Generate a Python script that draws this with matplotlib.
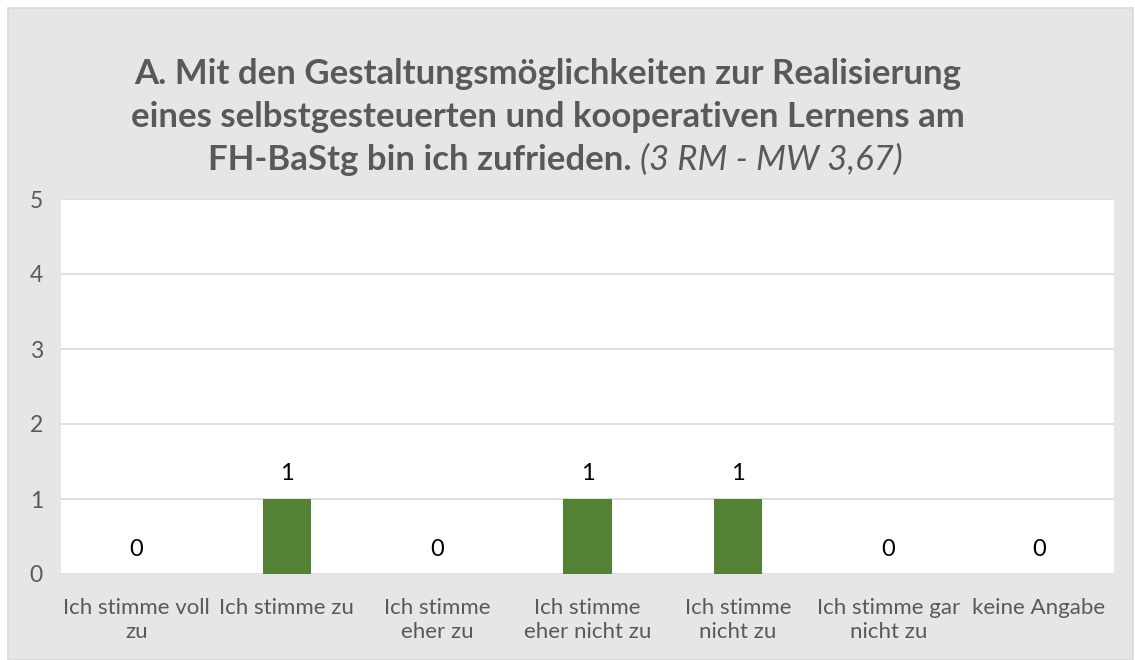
import matplotlib
matplotlib.use("Agg")
import matplotlib.pyplot as plt
from matplotlib.patches import Rectangle

categories = ["Ich stimme voll\nzu", "Ich stimme zu", "Ich stimme\neher zu",
              "Ich stimme\neher nicht zu", "Ich stimme\nnicht zu",
              "Ich stimme gar\nnicht zu", "keine Angabe"]
values = [0, 1, 0, 1, 1, 0, 0]
title_lines = ["A. Mit den Gestaltungsmöglichkeiten zur Realisierung",
               "eines selbstgesteuerten und kooperativen Lernens am"]
title_bold3 = "FH-BaStg bin ich zufrieden."
title_ital3 = "(3 RM - MW 3,67)"

W, H = 1135, 660
fig = plt.figure(figsize=(W/100, H/100), dpi=100)
fig.patch.set_facecolor("white")
bg = "#e7e6e6"
fig.patches.append(Rectangle((8/W, 0), (1133-8)/W, (660-8)/H, transform=fig.transFigure,
                             facecolor=bg, edgecolor="#d9d9d9", lw=1.2, zorder=-5))

x0, x1, y0, y1 = 61, 1114, 199, 574
ax = fig.add_axes([x0/W, 1-y1/H, (x1-x0)/W, (y1-y0)/H])
ax.set_zorder(2)
ax.set_facecolor("white")
fam = ["Lato", "DejaVu Sans"]
xs = range(len(categories))
ax.bar(xs, values, width=0.32, color="#548235", zorder=3)
ax.set_xlim(-0.5, len(categories)-0.5)
ax.set_ylim(0, 5)
ax.yaxis.grid(True, color="#d9d9d9", lw=1.2, zorder=0)
ax.set_axisbelow(True)
for s in ax.spines.values():
    s.set_visible(False)
ax.tick_params(length=0)
ax.set_yticks(range(6))
ax.set_yticklabels([str(i) for i in range(6)], fontsize=16.5, color="#595959", family=fam)
ax.tick_params(axis="y", pad=13)
ax.set_xticks(list(xs))
ax.set_xticklabels(categories, fontsize=16, color="#595959", family=fam, linespacing=1.3)
ax.tick_params(axis="x", pad=17)
for x, v in zip(xs, values):
    ax.annotate(str(v), (x, v), xytext=(0, 25), textcoords="offset pixels",
                ha="center", va="center", fontsize=17, color="black", family=fam)

tcol = "#595959"
fs = 25
fig.text(548/W, 1-74/H, title_lines[0], ha="center", va="center", fontsize=fs,
         fontweight="bold", color=tcol, family=fam)
fig.text(548/W, 1-117/H, title_lines[1], ha="center", va="center", fontsize=fs,
         fontweight="bold", color=tcol, family=fam)
ta = fig.text(0, 1-160/H, title_bold3 + " ", ha="left", va="center", fontsize=fs,
              fontweight="bold", color=tcol, family=fam)
tb = fig.text(0, 1-160/H, title_ital3, ha="left", va="center", fontsize=fs,
              style="italic", color=tcol, family=fam)
fig.canvas.draw()
r = fig.canvas.get_renderer()
wa = ta.get_window_extent(r).width
wb = tb.get_window_extent(r).width
start = 555 - (wa + wb) / 2
ta.set_x(start / W)
tb.set_x((start + wa) / W)

fig.savefig("out.png", dpi=100, facecolor=fig.get_facecolor())
